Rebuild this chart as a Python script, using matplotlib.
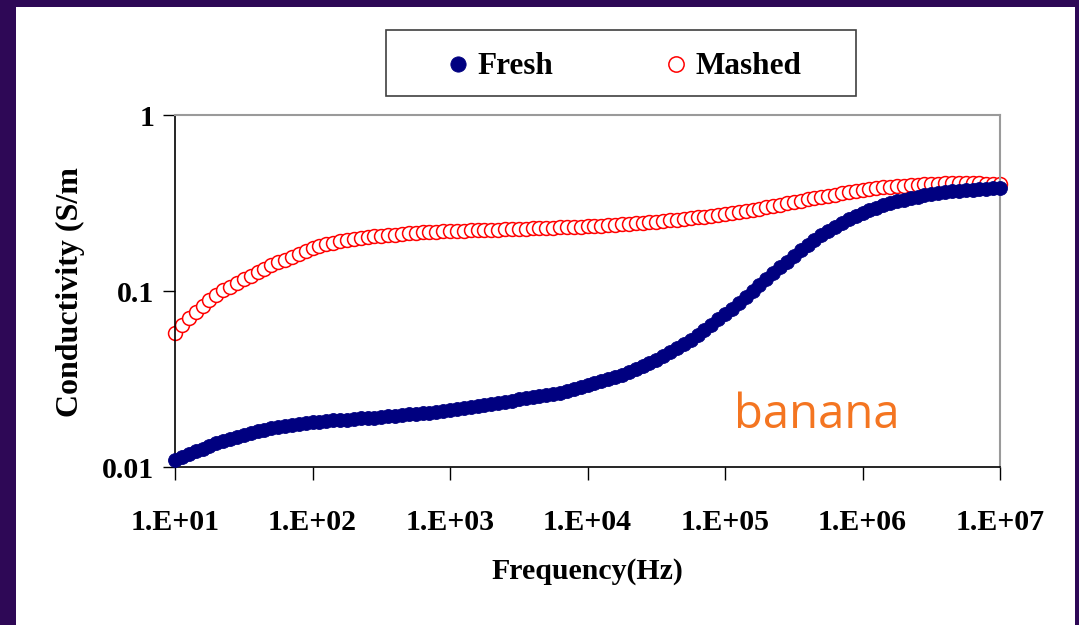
import numpy as np
import matplotlib
matplotlib.use("Agg")
import matplotlib.pyplot as plt
from matplotlib.patches import Rectangle

# sweep: 20 points per decade, 10 Hz .. 10 MHz
freq = np.logspace(1, 7, 121)

# conductivity (S/m)
fresh = [
    0.0110, 0.0114, 0.0119, 0.0123, 0.0127, 0.0132, 0.0137, 0.0140, 0.0144, 0.0148,
    0.0152, 0.0156, 0.0160, 0.0162, 0.0167, 0.0169, 0.0171, 0.0173, 0.0176, 0.0178,
    0.0180, 0.0181, 0.0183, 0.0184, 0.0185, 0.0186, 0.0187, 0.0189, 0.0190, 0.0191,
    0.0192, 0.0194, 0.0195, 0.0197, 0.0199, 0.0200, 0.0203, 0.0204, 0.0205, 0.0208,
    0.0211, 0.0214, 0.0216, 0.0219, 0.0222, 0.0225, 0.0228, 0.0231, 0.0234, 0.0237,
    0.0242, 0.0247, 0.0250, 0.0253, 0.0256, 0.0260, 0.0263, 0.0269, 0.0276, 0.0283,
    0.0292, 0.0300, 0.0308, 0.0316, 0.0325, 0.0335, 0.0347, 0.0360, 0.0375, 0.0390,
    0.0408, 0.0427, 0.0450, 0.0474, 0.0500, 0.0530, 0.0562, 0.0600, 0.0641, 0.0689,
    0.0740, 0.0795, 0.0855, 0.0925, 0.100, 0.108, 0.117, 0.127, 0.137, 0.147,
    0.158, 0.170, 0.183, 0.195, 0.208, 0.219, 0.231, 0.243, 0.255, 0.267,
    0.278, 0.289, 0.298, 0.308, 0.316, 0.325, 0.331, 0.338, 0.344, 0.351,
    0.356, 0.360, 0.365, 0.370, 0.372, 0.375, 0.377, 0.380, 0.382, 0.385,
    0.385,
]
mashed = [
    0.0577, 0.0641, 0.0702, 0.0760, 0.0822, 0.0889, 0.0949, 0.1013, 0.1058, 0.1117,
    0.1170, 0.1217, 0.1282, 0.1342, 0.1405, 0.1461, 0.1510, 0.1560, 0.1622, 0.1688,
    0.1755,
    0.1802, 0.1838, 0.1874, 0.1911, 0.1949, 0.1975, 0.2001, 0.2027, 0.2054, 0.2067,
    0.2081, 0.2094, 0.2108, 0.2122, 0.2136, 0.2150, 0.2164, 0.2173, 0.2179, 0.2193,
    0.2198, 0.2204, 0.2210, 0.2216, 0.2222, 0.2227, 0.2233, 0.2239, 0.2245, 0.2251,
    0.2260, 0.2266, 0.2275, 0.2280, 0.2289, 0.2298, 0.2304, 0.2311, 0.2320, 0.2328,
    0.2341, 0.2353, 0.2366, 0.2378, 0.2393, 0.2409, 0.2425, 0.2441, 0.2460, 0.2476,
    0.2498, 0.2522, 0.2545, 0.2569, 0.2593, 0.2620, 0.2648, 0.2676, 0.2707, 0.2738,
    0.2775, 0.2811, 0.2848, 0.2893, 0.2942, 0.2993, 0.3044, 0.3097, 0.3150, 0.3204,
    0.3259, 0.3315, 0.3367, 0.3420, 0.3474, 0.3528, 0.3584, 0.3641, 0.3699, 0.3748,
    0.3798, 0.3838, 0.3874, 0.3909, 0.3940, 0.3971, 0.3997, 0.4023, 0.4044, 0.4065,
    0.4081, 0.4092, 0.4103, 0.4108, 0.4108, 0.4103, 0.4092, 0.4076, 0.4055, 0.4029,
]

x_ticks = [1e1, 1e2, 1e3, 1e4, 1e5, 1e6, 1e7]
x_ticklabels = ["1.E+01", "1.E+02", "1.E+03", "1.E+04", "1.E+05", "1.E+06", "1.E+07"]
y_ticks = [0.01, 0.1, 1]
y_ticklabels = ["0.01", "0.1", "1"]

serif = "Liberation Serif"
W, H = 1079, 625

fig = plt.figure(figsize=(10.79, 6.25), dpi=100)
fig.patch.set_facecolor("#2E0856")
# white slide area inside the purple frame
fig.patches.append(Rectangle((16 / W, 0), 1059 / W, 618 / H,
                             transform=fig.transFigure, facecolor="white",
                             edgecolor="none", zorder=-10))
# legend box
fig.patches.append(Rectangle((386 / W, 1 - 96 / H), 470 / W, 66 / H,
                             transform=fig.transFigure, facecolor="white",
                             edgecolor="#404040", lw=1.2, zorder=-5))

ax = fig.add_axes([175 / W, 1 - 467 / H, 825 / W, 352 / H])
ax.set_xscale("log")
ax.set_yscale("log")

ax.plot(freq, mashed, "o", ms=10, mfc="white", mec="#FF0000", mew=1.1,
        label="Mashed", zorder=2, clip_on=False)
ax.plot(freq, fresh, "o", ms=10, mfc="#000080", mec="#000080", mew=0.6,
        label="Fresh", zorder=3, clip_on=False)

ax.set_xlim(1e1, 1e7)
ax.set_ylim(0.01, 1)
ax.set_xticks(x_ticks)
ax.set_xticklabels(x_ticklabels)
ax.set_yticks(y_ticks)
ax.set_yticklabels(y_ticklabels)
ax.minorticks_off()
for lab in ax.get_xticklabels() + ax.get_yticklabels():
    lab.set_fontfamily(serif)
    lab.set_fontweight("bold")
    lab.set_fontsize(21.5)
ax.tick_params(axis="x", direction="out", length=9, width=1, pad=21)
ax.tick_params(axis="y", direction="out", length=9, width=1, pad=6)
for s in ["left", "bottom"]:
    ax.spines[s].set_color("black")
    ax.spines[s].set_linewidth(1.2)
for s in ["top", "right"]:
    ax.spines[s].set_color("#9a9a9a")
    ax.spines[s].set_linewidth(1.5)

ax.set_xlabel("Frequency(Hz)", fontfamily=serif, fontweight="bold",
              fontsize=21.5, labelpad=16)
fig.text(70 / W, 1 - 292 / H, "Conductivity (S/m", rotation=90,
         ha="center", va="center", fontfamily=serif, fontweight="bold",
         fontsize=23)

ax.text(0.678, 0.111, "banana", transform=ax.transAxes, color="#F47521",
        fontfamily="Open Sans", fontsize=34, ha="left", va="baseline")

handles, labels = ax.get_legend_handles_labels()
leg = fig.legend(handles[::-1], labels[::-1], ncol=2, loc="center",
                 bbox_to_anchor=(625 / W, 1 - 67 / H),
                 frameon=False, markerscale=1.1,
                 handlelength=0.6, handletextpad=0.35, columnspacing=3.6,
                 prop={"family": serif, "weight": "bold", "size": 22.5})

fig.savefig("out.png", dpi=100, facecolor=fig.get_facecolor())
